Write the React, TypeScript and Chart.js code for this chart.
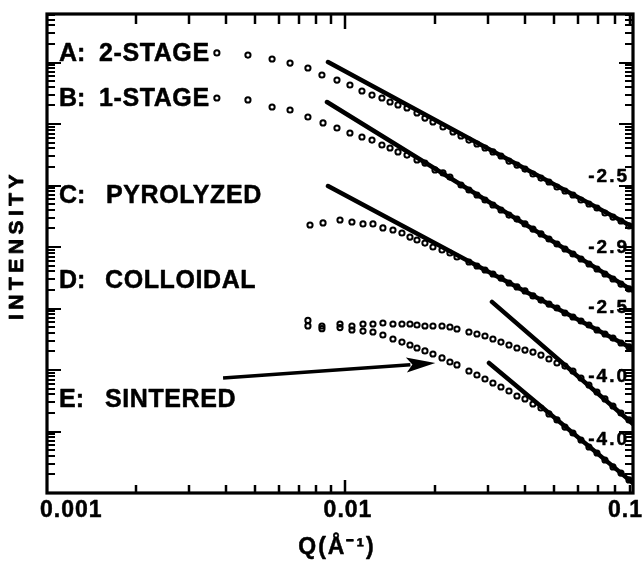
import React, { useEffect, useRef } from 'react';
import { Chart, registerables } from 'chart.js';

Chart.register(...registerables);

// ---------------- data (Q in 1/Å, intensity in arbitrary units) ----------------
const SERIES_LETTERS = ['A', 'B', 'C', 'D', 'E'];
const SERIES_NAMES = ['2-STAGE', '1-STAGE', 'PYROLYZED', 'COLLOIDAL', 'SINTERED'];
const SLOPE_LABELS = ['-2.5', '-2.9', '-2.5', '-4.0', '-4.0'];

const X_TICK_VALUES = [0.001, 0.01, 0.1];
const X_TICK_LABELS = ['0.001', '0.01', '0.1'];

const X_MIN = 0.001;
const X_MAX = 0.0912;
const Y_MIN = 1;
const Y_MAX = 6.15e7;

const Q_A = [0.0037, 0.0047, 0.00566, 0.0065, 0.00746, 0.00831, 0.00933, 0.01031, 0.01131, 0.01222, 0.01319, 0.01404, 0.01493, 0.016, 0.01728, 0.01837, 0.01954, 0.02111, 0.0228,
  0.02425, 0.02578, 0.02742, 0.02917, 0.03101, 0.03299, 0.03509, 0.03731, 0.03969, 0.04221, 0.04489, 0.04774, 0.05078, 0.054, 0.05743, 0.06109, 0.06496, 0.0691, 0.07348, 0.07816, 0.08312, 0.08841];
const I_A = [1.43e7, 1.32e7, 1.14e7, 9.81e6, 8.14e6, 6.26e6, 5.19e6, 4.31e6, 3.44e6, 2.96e6, 2.65e6, 2.28e6, 2.04e6, 1.82e6, 1.51e6, 1.25e6, 1.08e6, 8.94e5, 7.41e5,
  6.38e5, 5.49e5, 4.73e5, 4.07e5, 3.51e5, 3.02e5, 2.5e5, 2.15e5, 1.85e5, 1.54e5, 1.32e5, 1.14e5, 9.45e4, 8.14e4, 7.01e4, 5.81e4, 5.0e4, 4.31e4, 3.57e4, 3.07e4, 2.65e4, 2.2e4];

const Q_B = [0.0037, 0.0047, 0.00566, 0.0065, 0.00746, 0.00838, 0.00933, 0.01031, 0.01131, 0.01222, 0.01319, 0.01404, 0.01493, 0.016, 0.01728, 0.01837, 0.01985, 0.02111, 0.02227,
  0.02425, 0.02578, 0.02742, 0.02917, 0.03101, 0.03299, 0.03509, 0.03731, 0.03969, 0.04221, 0.04489, 0.04774, 0.05078, 0.054, 0.05743, 0.06109, 0.06496, 0.0691, 0.07348, 0.07816, 0.08312, 0.08841];
const I_B = [2.65e6, 2.46e6, 1.89e6, 1.69e6, 1.3e6, 1.04e6, 8.61e5, 7.14e5, 6.15e5, 5.49e5, 4.56e5, 4.07e5, 3.51e5, 3.13e5, 2.6e5, 2.32e5, 1.79e5, 1.6e5, 1.37e5,
  1.02e5, 8.45e4, 7.01e4, 5.81e4, 4.82e4, 4.0e4, 3.31e4, 2.85e4, 2.37e4, 1.96e4, 1.63e4, 1.35e4, 1.12e4, 9.28e3, 7.7e3, 6.38e3, 5.29e3, 4.39e3, 3.64e3, 3.02e3, 2.5e3, 2.08e3];

const Q_C = [0.00758, 0.00838, 0.00955, 0.01047, 0.0114, 0.01231, 0.01329, 0.01436, 0.01539, 0.01637, 0.01728, 0.01837, 0.01954, 0.02095, 0.02227, 0.02351,
  0.02578, 0.02742, 0.02917, 0.03101, 0.03299, 0.03509, 0.03731, 0.03969, 0.04221, 0.04489, 0.04774, 0.05078, 0.054, 0.05743, 0.06109, 0.06496, 0.0691, 0.07348, 0.07816, 0.08312, 0.08841];
const I_C = [2.28e4, 2.46e4, 2.75e4, 2.55e4, 2.37e4, 2.37e4, 2.04e4, 1.89e4, 1.69e4, 1.45e4, 1.3e4, 1.16e4, 1.0e4, 8.94e3, 7.99e3, 6.88e3,
  5.7e3, 4.91e3, 4.23e3, 3.64e3, 3.13e3, 2.6e3, 2.24e3, 1.93e3, 1.6e3, 1.37e3, 1.18e3, 1.02e3, 845, 727, 626, 539, 447, 385, 331, 275, 237];

const Q_D = [0.00746, 0.00831, 0.00955, 0.01047, 0.0114, 0.01231, 0.01329, 0.01436, 0.01539, 0.01637, 0.01728, 0.01837, 0.01954, 0.02095, 0.02227, 0.02351,
  0.02578, 0.02742, 0.02917, 0.03101, 0.03299, 0.03509, 0.03731, 0.03969, 0.04221, 0.04489, 0.04774, 0.05078, 0.054, 0.05743, 0.06109, 0.06496, 0.0691, 0.07348, 0.07816, 0.08312, 0.08841];
const I_D = [640, 519, 560, 519, 560, 560, 581, 560, 560, 560, 539, 519, 519, 519, 500, 464,
  415, 385, 357, 319, 285, 255, 228, 211, 196, 175, 151, 130, 116, 96.3, 74.1, 57.0, 43.9, 33.8, 26.0, 20.0, 15.4];

const Q_E = [0.00746, 0.00831, 0.00955, 0.01047, 0.0114, 0.01231, 0.01329, 0.01436, 0.01539, 0.01637, 0.01728, 0.01837, 0.01954, 0.02095, 0.02227, 0.02351,
  0.02578, 0.02742, 0.02917, 0.03101, 0.03299, 0.03509, 0.03731, 0.03969, 0.04221, 0.04489, 0.04774, 0.05078, 0.054, 0.05743, 0.06109, 0.06496, 0.0691, 0.07348, 0.07816, 0.08312, 0.08841];
const I_E = [520, 470, 490, 447, 430, 415, 371, 319, 285, 255, 228, 204, 182, 157, 135, 121,
  96.3, 82.9, 71.4, 61.5, 52.9, 45.6, 37.8, 33.8, 28.0, 24.1, 19.3, 15.4, 11.8, 9.45, 7.27, 5.6, 4.47, 3.44, 2.65, 2.11, 1.63];

// power-law fit lines: [start, end]
const FIT_Q_A = [0.008706, 0.0912];
const FIT_I_A = [1.02e7, 2.11e4];
const FIT_Q_B = [0.00864, 0.0912];
const FIT_I_B = [2.28e6, 1.93e3];
const FIT_Q_C = [0.008706, 0.0912];
const FIT_I_C = [9.81e4, 220];
const FIT_Q_D = [0.03078, 0.0912];
const FIT_I_D = [1.28e3, 13.2];
const FIT_Q_E = [0.03008, 0.0912];
const FIT_I_E = [130, 1.45];

// arrow pointing at curve E: [tail, tip]
const ARROW_Q = [0.00388, 0.0199];
const ARROW_I = [74.1, 130];

// ---------------- layout (pixels) ----------------
const W = 644;
const H = 561;
const FONT = '"Liberation Sans", Arial, Helvetica, sans-serif';
const NAME_BASELINES = [61, 106, 203, 288, 407];
const LETTER_X = 59;
const NAME_X = [99, 99, 106, 105, 105];
const SLOPE_BASELINES = [182, 253, 313, 382, 445];
const SLOPE_RIGHT = 629;

const pts = (qs: number[], is: number[]) => qs.map((q, i) => ({ x: q, y: is[i] }));

function txt(ctx: CanvasRenderingContext2D, s: string, x: number, y: number, font: string, align: CanvasTextAlign, spacing = 0, heavy = 0.5) {
  ctx.font = font;
  ctx.textAlign = align;
  ctx.textBaseline = 'alphabetic';
  (ctx as any).letterSpacing = spacing + 'px';
  ctx.fillText(s, x, y);
  if (heavy > 0) {
    ctx.lineWidth = heavy;
    ctx.lineJoin = 'round';
    ctx.strokeText(s, x, y);
  }
  (ctx as any).letterSpacing = '0px';
}

const decorPlugin = {
  id: 'decor',
  afterDraw(chart: any) {
    const { ctx, chartArea: ca, scales } = chart;
    const xs = scales.x;
    const ys = scales.y;
    ctx.save();
    ctx.fillStyle = '#000';
    ctx.strokeStyle = '#000';
    ctx.lineCap = 'butt';

    // x ticks (top and bottom, pointing inwards)
    ctx.lineWidth = 2.5;
    for (let e = -3; e <= -1; e++) {
      for (let m = 1; m <= 9; m++) {
        const v = m * Math.pow(10, e);
        if (v <= X_MIN * 1.001 || v >= X_MAX) continue;
        const px = Math.round(xs.getPixelForValue(v)) - 1;
        const len = m === 1 ? 15 : 10;
        ctx.beginPath();
        ctx.moveTo(px, ca.top);
        ctx.lineTo(px, ca.top + len);
        ctx.stroke();
        ctx.beginPath();
        ctx.moveTo(px, ca.bottom);
        ctx.lineTo(px, ca.bottom - len + 2);
        ctx.stroke();
      }
    }
    // y ticks (left and right, pointing inwards)
    ctx.lineWidth = 2;
    for (let e = 0; e <= 8; e++) {
      for (let m = 1; m <= 9; m++) {
        const v = m * Math.pow(10, e);
        if (v <= Y_MIN * 1.001 || v >= Y_MAX) continue;
        const py = Math.round(ys.getPixelForValue(v));
        const len = m === 1 ? 14 : 8;
        ctx.beginPath();
        ctx.moveTo(ca.left, py);
        ctx.lineTo(ca.left + len, py);
        ctx.stroke();
        ctx.beginPath();
        ctx.moveTo(ca.right, py);
        ctx.lineTo(ca.right - len, py);
        ctx.stroke();
      }
    }

    // frame
    ctx.lineWidth = 3.2;
    ctx.strokeRect(ca.left, ca.top, ca.right - ca.left, ca.bottom - ca.top);

    // x tick labels
    const tickFont = `bold 23px ${FONT}`;
    X_TICK_VALUES.forEach((v, i) => {
      const px = xs.getPixelForValue(v);
      if (i === 0) txt(ctx, X_TICK_LABELS[i], px - 7, 517, tickFont, 'left', 1);
      else if (i === X_TICK_VALUES.length - 1) txt(ctx, X_TICK_LABELS[i], Math.min(px, W) - 1, 517, tickFont, 'right', 1);
      else txt(ctx, X_TICK_LABELS[i], px + 2, 517, tickFont, 'center', 1);
    });

    // axis titles
    txt(ctx, 'Q(Å⁻¹)', (ca.left + ca.right) / 2 - 3, 554, `bold 23px ${FONT}`, 'center', 2);
    ctx.save();
    ctx.translate(23, 247);
    ctx.rotate(-Math.PI / 2);
    txt(ctx, 'INTENSITY', 2, 0, `bold 21px ${FONT}`, 'center', 4.5, 0.8);
    ctx.restore();

    // series labels
    const labFont = `bold 25px ${FONT}`;
    SERIES_LETTERS.forEach((l, i) => {
      txt(ctx, l + ':', LETTER_X, NAME_BASELINES[i], labFont, 'left');
      txt(ctx, SERIES_NAMES[i], NAME_X[i], NAME_BASELINES[i], labFont, 'left', 0.6);
    });

    // slope labels
    SLOPE_LABELS.forEach((s, i) => {
      txt(ctx, s, SLOPE_RIGHT, SLOPE_BASELINES[i], `bold 19px ${FONT}`, 'right', 2);
    });

    // arrow
    const x1 = xs.getPixelForValue(ARROW_Q[0]);
    const y1 = ys.getPixelForValue(ARROW_I[0]);
    const x2 = xs.getPixelForValue(ARROW_Q[1]);
    const y2 = ys.getPixelForValue(ARROW_I[1]);
    const L = Math.hypot(x2 - x1, y2 - y1);
    const ux = (x2 - x1) / L;
    const uy = (y2 - y1) / L;
    const headLen = 29;
    const headHalf = 7.5;
    const bx = x2 - ux * headLen;
    const by = y2 - uy * headLen;
    ctx.lineWidth = 3.4;
    ctx.beginPath();
    ctx.moveTo(x1, y1);
    ctx.lineTo(bx + ux * 4, by + uy * 4);
    ctx.stroke();
    ctx.beginPath();
    ctx.moveTo(x2, y2);
    ctx.lineTo(bx - uy * headHalf, by + ux * headHalf);
    ctx.lineTo(bx + ux * 6, by + uy * 6);
    ctx.lineTo(bx + uy * headHalf, by - ux * headHalf);
    ctx.closePath();
    ctx.fill();

    ctx.restore();
  },
};

export default function App() {
  const ref = useRef<HTMLCanvasElement | null>(null);

  useEffect(() => {
    if (!ref.current) return;
    const scatterSets = [
      pts(Q_A, I_A), pts(Q_B, I_B), pts(Q_C, I_C), pts(Q_D, I_D), pts(Q_E, I_E),
    ].map((data, i) => ({
      label: SERIES_NAMES[i],
      data,
      showLine: false,
      pointRadius: 2.6,
      pointHoverRadius: 2.6,
      borderWidth: 2,
      borderColor: '#000',
      backgroundColor: 'rgba(255,255,255,0)',
      order: 2,
    }));
    const fitSets = [
      pts(FIT_Q_A, FIT_I_A), pts(FIT_Q_B, FIT_I_B), pts(FIT_Q_C, FIT_I_C), pts(FIT_Q_D, FIT_I_D), pts(FIT_Q_E, FIT_I_E),
    ].map((data, i) => ({
      label: 'fit ' + SLOPE_LABELS[i],
      data,
      showLine: true,
      pointRadius: 0,
      borderWidth: 4.5,
      borderColor: '#000',
      borderCapStyle: 'round' as const,
      backgroundColor: '#000',
      order: 1,
    }));

    const chart = new Chart(ref.current, {
      type: 'scatter',
      data: { datasets: [...fitSets, ...scatterSets] as any },
      options: {
        animation: false,
        responsive: false,
        devicePixelRatio: 1,
        layout: { padding: { left: 47, right: 11, top: 14, bottom: 68 } },
        plugins: { legend: { display: false }, tooltip: { enabled: false } },
        events: [],
        scales: {
          x: { type: 'logarithmic', min: X_MIN, max: X_MAX, display: false },
          y: { type: 'logarithmic', min: Y_MIN, max: Y_MAX, display: false },
        },
      },
      plugins: [decorPlugin],
    });
    return () => chart.destroy();
  }, []);

  return (
    <div style={{ position: 'absolute', left: 0, top: 0, width: W, height: H, background: '#fff' }}>
      <canvas ref={ref} width={W} height={H} style={{ display: 'block', width: W, height: H }} />
    </div>
  );
}
